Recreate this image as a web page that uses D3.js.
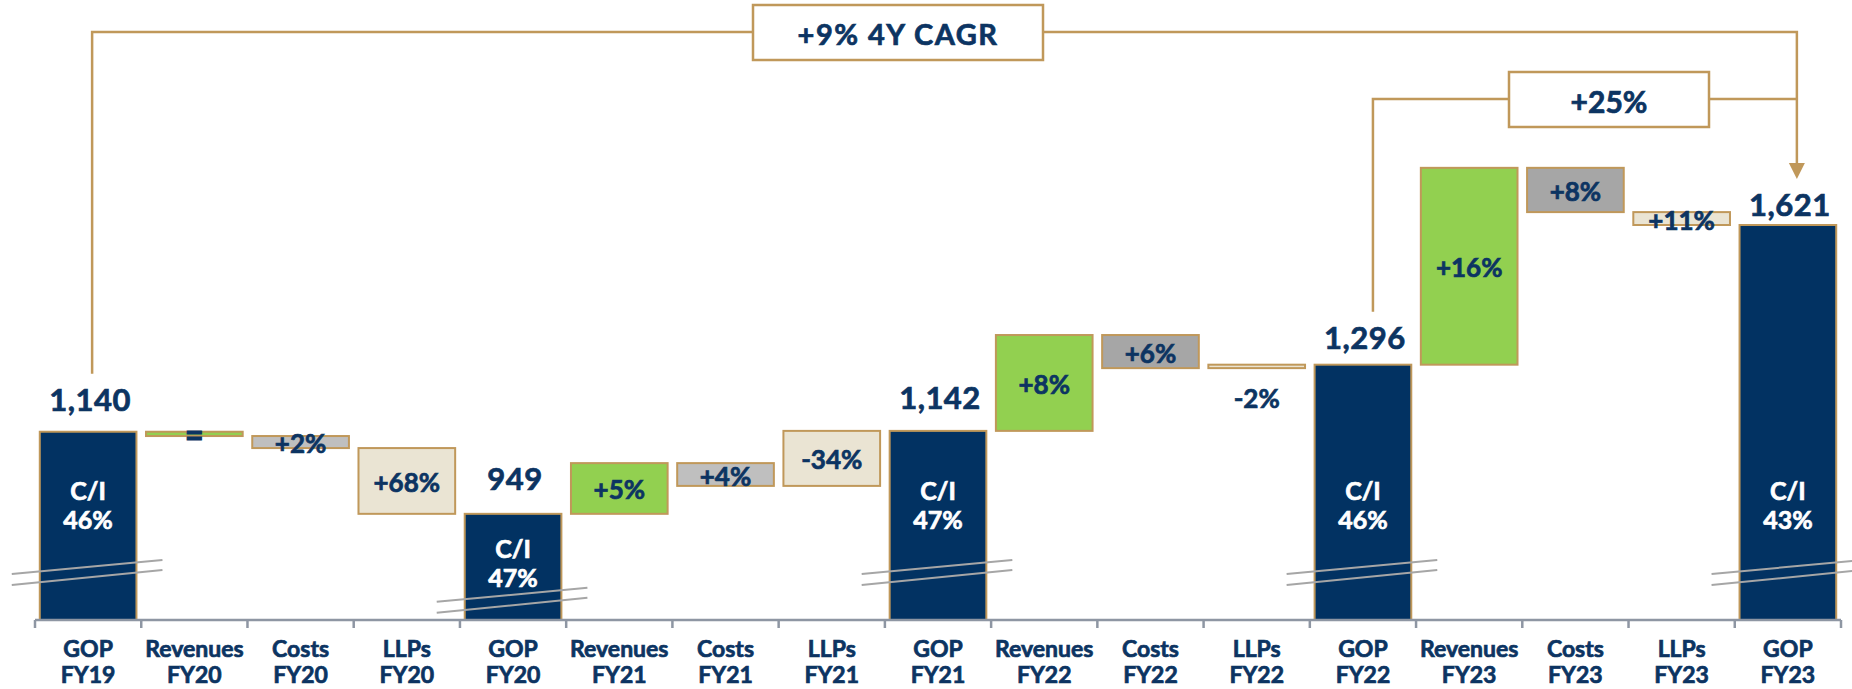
<!DOCTYPE html>
<html>
<head>
<meta charset="utf-8">
<script src="https://cdn.jsdelivr.net/npm/d3@7"></script>
<style>
    body { margin: 0; background: #fff; }
    svg text { font-family: Lato, "Open Sans", sans-serif; font-weight: 700; }
</style>
</head>
<body>
<svg id="graph" width="1852" height="689"></svg>
<script>
// data
const years = ["FY19", "FY20", "FY21", "FY22", "FY23"];
const gopValues = [1140, 949, 1142, 1296, 1621];
const gopCI = ["46%", "47%", "47%", "46%", "43%"];
const revDelta = [-10, 118, 223, 458];
const costDelta = [-28, -53, -77, -103];
const llpDelta = [-153, 128, 8, -30];
const revLabels = ["=", "+5%", "+8%", "+16%"];
const costLabels = ["+2%", "+4%", "+6%", "+8%"];
const llpLabels = ["+68%", "-34%", "-2%", "+11%"];
const cagrLabel = "+9% 4Y CAGR";
const lastYearLabel = "+25%";

const navy = "#023262";
const textNavy = "#0c3462";
const gold = "#c0985a";
const green = "#92d050";
const beige = "#eae4d3";
const costFill = ["#bfbfbf", "#bfbfbf", "#a6a6a6", "#a6a6a6"];

// build waterfall rows
const rows = [];
let running = gopValues[0];
rows.push({ name: "GOP", year: years[0], kind: "gop", value: gopValues[0], ci: gopCI[0], idx: 0 });
for (let i = 0; i < 4; i++) {
    const steps = [
        ["Revenues", "rev", revDelta[i], revLabels[i]],
        ["Costs", "cost", costDelta[i], costLabels[i]],
        ["LLPs", "llp", llpDelta[i], llpLabels[i]],
    ];
    steps.forEach(([name, kind, d, lab]) => {
        rows.push({ name: name, year: years[i + 1], kind: kind, start: running, end: running + d, label: lab, idx: i });
        running += d;
    });
    rows.push({ name: "GOP", year: years[i + 1], kind: "gop", value: gopValues[i + 1], ci: gopCI[i + 1], idx: i + 1 });
}

const svg = d3.select("#graph");
const x = d3.scaleBand().domain(d3.range(rows.length)).range([35, 1841]).paddingInner(0.09).paddingOuter(0.045);
const y = d3.scaleLinear().domain([702, 1621]).range([620, 225]);
const bw = x.bandwidth();
const step = x.step();
const cx = (i) => x(i) + bw / 2;

// makes Lato look a bit heavier, closer to the original face
const heavy = (sel, col) => sel.attr("stroke", col).attr("stroke-width", 0.7).attr("paint-order", "stroke");

// brackets
const topY = 32;
const midY = 99;
const gopIdx = rows.map((r, i) => (r.kind === "gop" ? i : -1)).filter((i) => i >= 0);
const first = gopIdx[0], prev = gopIdx[3], last = gopIdx[4];
const labelGap = [33, 36, 34, 28, 21];
const lx0 = cx(first) + 4;
const lx1 = cx(prev) + 10;
const lx2 = cx(last) + 9;

const line = d3.line();
const bracket = svg.append("g").attr("fill", "none").attr("stroke", gold).attr("stroke-width", 2.5);
bracket.append("path").attr("d", line([[lx0, y(gopValues[0]) - labelGap[0] - 25], [lx0, topY], [lx2, topY], [lx2, 164]]));
bracket.append("path").attr("d", line([[lx1, y(gopValues[3]) - labelGap[3] - 25], [lx1, midY], [lx2, midY]]));
svg.append("path")
    .attr("d", line([[lx2 - 8, 163], [lx2 + 8, 163], [lx2, 179]]) + "Z")
    .attr("fill", gold);

const boxes = [
    { text: cagrLabel, x0: 753, x1: 1043, y0: 5, y1: 60, size: 29, ls: 1.5 },
    { text: lastYearLabel, x0: 1509, x1: 1709, y0: 72, y1: 127, size: 30, ls: 0 },
];
boxes.forEach((b) => {
    svg.append("rect")
        .attr("x", b.x0).attr("y", b.y0)
        .attr("width", b.x1 - b.x0).attr("height", b.y1 - b.y0)
        .attr("fill", "#fff").attr("stroke", gold).attr("stroke-width", 2.5);
    svg.append("text")
        .attr("x", (b.x0 + b.x1) / 2).attr("y", (b.y0 + b.y1) / 2 + 1)
        .attr("text-anchor", "middle").attr("dominant-baseline", "central")
        .attr("font-size", b.size).attr("letter-spacing", b.ls)
        .attr("fill", textNavy).text(b.text)
        .call(heavy, textNavy);
});

// bars
const fillFor = (r) => {
    if (r.kind === "gop") return navy;
    if (r.kind === "rev") return green;
    if (r.kind === "cost") return costFill[r.idx];
    return beige;
};
const barTop = (r) => (r.kind === "gop" ? y(r.value) : y(Math.max(r.start, r.end)));
const barBot = (r) => (r.kind === "gop" ? y.range()[0] : y(Math.min(r.start, r.end)));

svg.append("g").selectAll("rect").data(rows).join("rect")
    .attr("x", (d, i) => x(i))
    .attr("y", barTop)
    .attr("width", bw)
    .attr("height", (d) => Math.max(barBot(d) - barTop(d), 1))
    .attr("fill", fillFor)
    .attr("stroke", gold)
    .attr("stroke-width", 2);

// axis break marks on total bars
const breaks = svg.append("g").attr("stroke", "#a6a6a6").attr("stroke-width", 2).attr("fill", "none");
gopIdx.forEach((i) => {
    const mid = Math.max(572, barTop(rows[i]) + 86);
    const xl = x(i) - 28, xr = x(i) + bw + 26;
    breaks.append("path").attr("d", line([[xl, mid + 2], [xr, mid - 12]]));
    breaks.append("path").attr("d", line([[xl, mid + 13], [xr, mid - 2]]));
});

// axis
const axisY = y.range()[0];
const axis = svg.append("g").attr("stroke", "#8e96a3").attr("stroke-width", 2.5).attr("fill", "none");
axis.append("path").attr("d", line([[x.range()[0], axisY], [x.range()[1], axisY]]));
d3.range(rows.length + 1).forEach((k) => {
    const xx = x.range()[0] + k * step;
    axis.append("path").attr("d", line([[xx, axisY], [xx, axisY + 8]]));
});

const labels = svg.append("g").attr("fill", textNavy).attr("font-size", 23).attr("text-anchor", "middle")
    .call(heavy, textNavy);
rows.forEach((r, i) => {
    labels.append("text").attr("x", cx(i)).attr("y", 657).text(r.name);
    labels.append("text").attr("x", cx(i)).attr("y", 683).text(r.year);
});

// value labels
const fmt = d3.format(",");
rows.forEach((r, i) => {
    if (r.kind === "gop") {
        svg.append("text")
            .attr("x", cx(i) + 2).attr("y", barTop(r) - labelGap[r.idx])
            .attr("text-anchor", "middle").attr("dominant-baseline", "central")
            .attr("font-size", 31).attr("letter-spacing", 0.5).attr("fill", textNavy)
            .text(fmt(r.value))
            .call(heavy, textNavy);
        const ly = Math.max(490, barTop(r) + 34);
        svg.append("text")
            .attr("x", cx(i)).attr("y", ly)
            .attr("text-anchor", "middle").attr("dominant-baseline", "central")
            .attr("font-size", 25).attr("fill", "#fff").text("C/I")
            .call(heavy, "#fff");
        svg.append("text")
            .attr("x", cx(i)).attr("y", ly + 29)
            .attr("text-anchor", "middle").attr("dominant-baseline", "central")
            .attr("font-size", 25).attr("fill", "#fff").text(r.ci)
            .call(heavy, "#fff");
    } else {
        const h = barBot(r) - barTop(r);
        const ly = h < 4 ? barBot(r) + 30 : (barTop(r) + barBot(r)) / 2 + 1;
        const t = svg.append("text")
            .attr("x", cx(i)).attr("y", ly)
            .attr("text-anchor", "middle").attr("dominant-baseline", "central")
            .attr("font-size", r.label === "=" ? 32 : 26)
            .attr("fill", textNavy).text(r.label);
        t.call(heavy, textNavy);
        if (r.label === "=") t.attr("stroke-width", 1.2);
    }
});
</script>
</body>
</html>
